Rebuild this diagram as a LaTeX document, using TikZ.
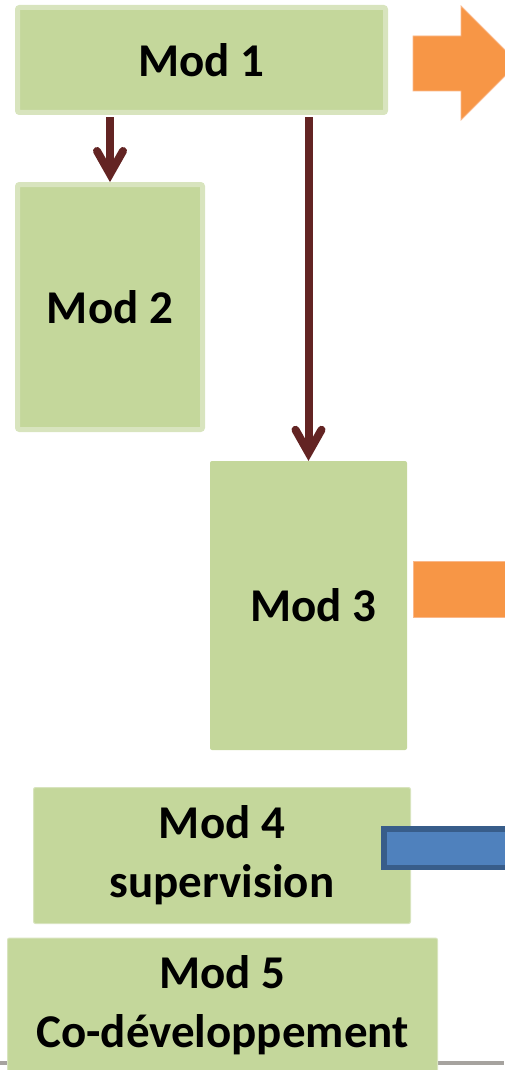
\documentclass[tikz,border=0pt]{standalone}
\usepackage{fontspec}
\setmainfont{Carlito}
\definecolor{modfill}{HTML}{C4D79B}
\definecolor{modedge}{HTML}{D8E4BE}
\definecolor{linkred}{HTML}{632423}
\definecolor{orangefill}{HTML}{F79646}
\definecolor{orangeedge}{HTML}{FAB88A}
\definecolor{bluefill}{HTML}{4F81BD}
\definecolor{blueedge}{HTML}{385D8A}
\definecolor{rulegray}{HTML}{A6A39F}
\tikzset{
  modbox/.style={fill=modfill, rounded corners=2pt, inner sep=0pt, align=center,
    font=\fontsize{47}{59}\selectfont\bfseries},
  thickedge/.style={draw=modedge, line width=5pt},
  thinedge/.style={draw=modedge, line width=1pt},
  shaft/.style={draw=linkred, line width=8pt, line cap=butt},
  barb/.style={draw=linkred, line width=8pt, line cap=round, line join=miter},
  bigarrow/.style={fill=orangefill, draw=orangeedge, line width=0.8pt},
  bluebar/.style={fill=bluefill, draw=blueedge, line width=5.5pt},
}
\begin{document}
\begin{tikzpicture}[x=1pt, y=-1pt]
\useasboundingbox (0,0) rectangle (504,1070);

% base rule along the bottom
\draw[rulegray, line width=4pt] (0,1063) -- (504,1063);

% modules
\node[modbox, thickedge, minimum width=368pt, minimum height=105pt] (m1) at (201.5,60) {Mod 1};
\node[modbox, thickedge, minimum width=185pt, minimum height=245pt] (m2) at (110,307) {Mod 2};
\node[modbox, minimum width=197pt, minimum height=289pt] (m3) at (308.5,605.5) {\hspace*{10pt}Mod 3};
\node[modbox, thinedge, minimum width=377pt, minimum height=136pt] (m4) at (222,855.5) {Mod 4\\supervision};
\node[modbox, thinedge, minimum width=430pt, minimum height=134pt] (m5) at (222.5,1005) {Mod 5\\Co-développement};

% links from Mod 1
\draw[shaft, shorten <=2.5pt] (m1.south -| m2.north) -- ([shift={(0,-8)}]m2.north);
\draw[barb] ([shift={(-13,-31)}]m2.north) -- ([shift={(0,-8)}]m2.north) -- ([shift={(13,-31)}]m2.north);
\draw[shaft, shorten <=2.5pt] (m1.south -| m3.north) -- ([shift={(0,-8)}]m3.north);
\draw[barb] ([shift={(-13,-31)}]m3.north) -- ([shift={(0,-8)}]m3.north) -- ([shift={(13,-31)}]m3.north);

% outgoing markers on the right
\fill[bigarrow] (413,36) -- (461,36) -- (461,6) -- (518,63) -- (461,120) -- (461,91) -- (413,91) -- cycle;
\fill[bigarrow] (413,561) rectangle (520,617);
\draw[bluebar] (383.75,828.75) rectangle (530,867.25);
\end{tikzpicture}
\end{document}
